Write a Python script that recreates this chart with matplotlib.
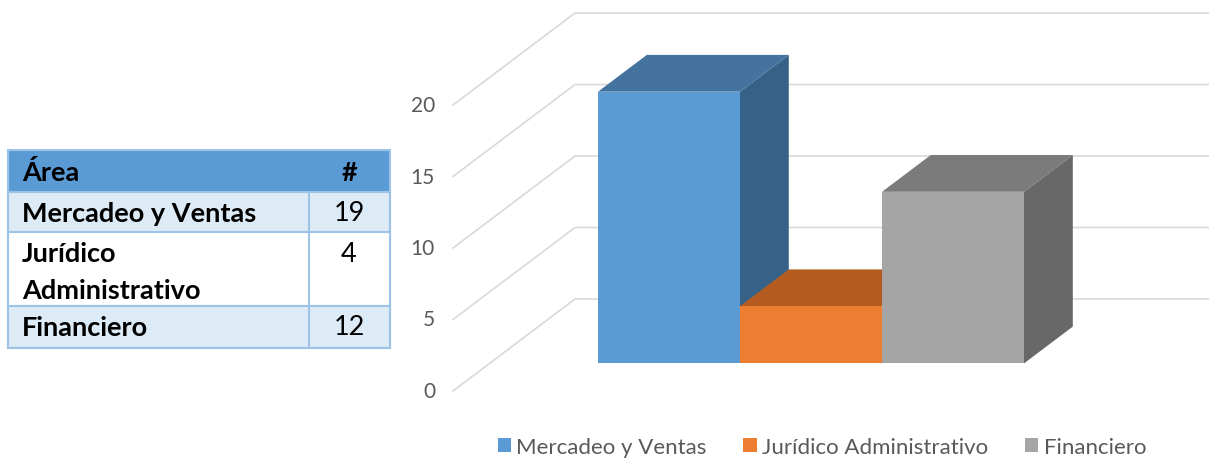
import matplotlib.pyplot as plt
from matplotlib.patches import Rectangle, Polygon, Patch

plt.rcParams['font.family'] = ['Lato', 'DejaVu Sans']

# data
categories = ['Mercadeo y Ventas', 'Jurídico Administrativo', 'Financiero']
table_names = ['Mercadeo y Ventas', 'Jurídico\nAdministrativo', 'Financiero']
values = [19, 4, 12]
yticks = [0, 5, 10, 15, 20]

front_cols = ['#5B9BD5', '#ED7D31', '#A5A5A5']
top_cols = ['#44739F', '#B45B1F', '#7B7B7B']
side_cols = ['#376288', '#A04F1A', '#686868']

W, H = 1209, 460
fig = plt.figure(figsize=(W / 100, H / 100), dpi=100)

# ---- table (pixel coordinates) ----
tx = fig.add_axes([0, 0, 1, 1])
tx.set_xlim(0, W)
tx.set_ylim(H, 0)
tx.axis('off')

left, mid, right = 8, 309, 390
row_edges = [151, 193, 233, 307, 349]
border = '#9DC3E6'
tx.add_patch(Rectangle((left, row_edges[0]), right - left, row_edges[1] - row_edges[0],
                       facecolor='#5B9BD5', edgecolor='none'))
for r in range(3):
    y0, y1 = row_edges[r + 1], row_edges[r + 2]
    fc = '#DDEBF7' if r % 2 == 0 else 'white'
    tx.add_patch(Rectangle((left, y0), right - left, y1 - y0, facecolor=fc,
                           edgecolor=border, lw=1.5))
    tx.plot([mid, mid], [y0, y1], color=border, lw=1.5)
tx.add_patch(Rectangle((left, row_edges[0]), right - left, row_edges[-1] - row_edges[0],
                       facecolor='none', edgecolor=border, lw=1.5))

fs_tab = 19.5
tx.text(22, 173, 'Área', fontsize=fs_tab, fontweight='bold', va='center')
tx.text(349, 173, '#', fontsize=fs_tab, fontweight='bold', va='center', ha='center')
for r, (name, v) in enumerate(zip(table_names, values)):
    y0 = row_edges[r + 1]
    for k, line in enumerate(name.split('\n')):
        tx.text(22, y0 + 21 + 37 * k, line, fontsize=fs_tab, fontweight='bold', va='center')
    tx.text(349, y0 + 21, str(v), fontsize=fs_tab, va='center', ha='center')

# ---- pseudo 3D bar chart ----
px_x, px_y = 142.0, 14.3          # pixels per category / per unit
x0_px, y0_px = 598, 392          # pixel of first bar front / value 0 on the front plane
ax = fig.add_axes([0, 0, 1, 1])
ax.set_xlim(-x0_px / px_x, (W - x0_px) / px_x)
ax.set_ylim((y0_px - H) / px_y, y0_px / px_y)
ax.axis('off')

ddx, ddy = 122 / px_x, 92 / px_y   # full depth offset in data units
wall_x = (575 - x0_px) / px_x - ddx
grid_c = '#D9D9D9'
for t in yticks:
    ax.plot([wall_x, wall_x + ddx, ax.get_xlim()[1]], [t, t + ddy, t + ddy],
            color=grid_c, lw=1.2, zorder=1)
    ax.text((435 - x0_px) / px_x, t, str(t), ha='right', va='center',
            fontsize=15, color='#595959')

d0, d1 = 0.3, 0.7
for i, v in enumerate(values):
    bx, by = i, ddy * d0
    ox, oy = ddx * (d1 - d0), ddy * (d1 - d0)
    z = 3 + i
    ax.add_patch(Polygon([(bx + 1, by), (bx + 1 + ox, by + oy), (bx + 1 + ox, by + v + oy),
                          (bx + 1, by + v)], closed=True, facecolor=side_cols[i],
                         edgecolor='none', zorder=z))
    ax.add_patch(Polygon([(bx, by + v), (bx + 1, by + v), (bx + 1 + ox, by + v + oy),
                          (bx + ox, by + v + oy)], closed=True, facecolor=top_cols[i],
                         edgecolor='none', zorder=z))
    ax.add_patch(Rectangle((bx, by), 1, v, facecolor=front_cols[i], edgecolor='none', zorder=z))

handles = [Patch(facecolor=c, label=l) for c, l in zip(front_cols, categories)]
fig.legend(handles=handles, loc='center', bbox_to_anchor=(822 / W, 1 - 448 / H), ncol=3,
           frameon=False, fontsize=16, labelcolor='#595959', handlelength=0.6,
           handleheight=0.6, handletextpad=0.25, columnspacing=1.65)

fig.savefig('out.png', dpi=100)
